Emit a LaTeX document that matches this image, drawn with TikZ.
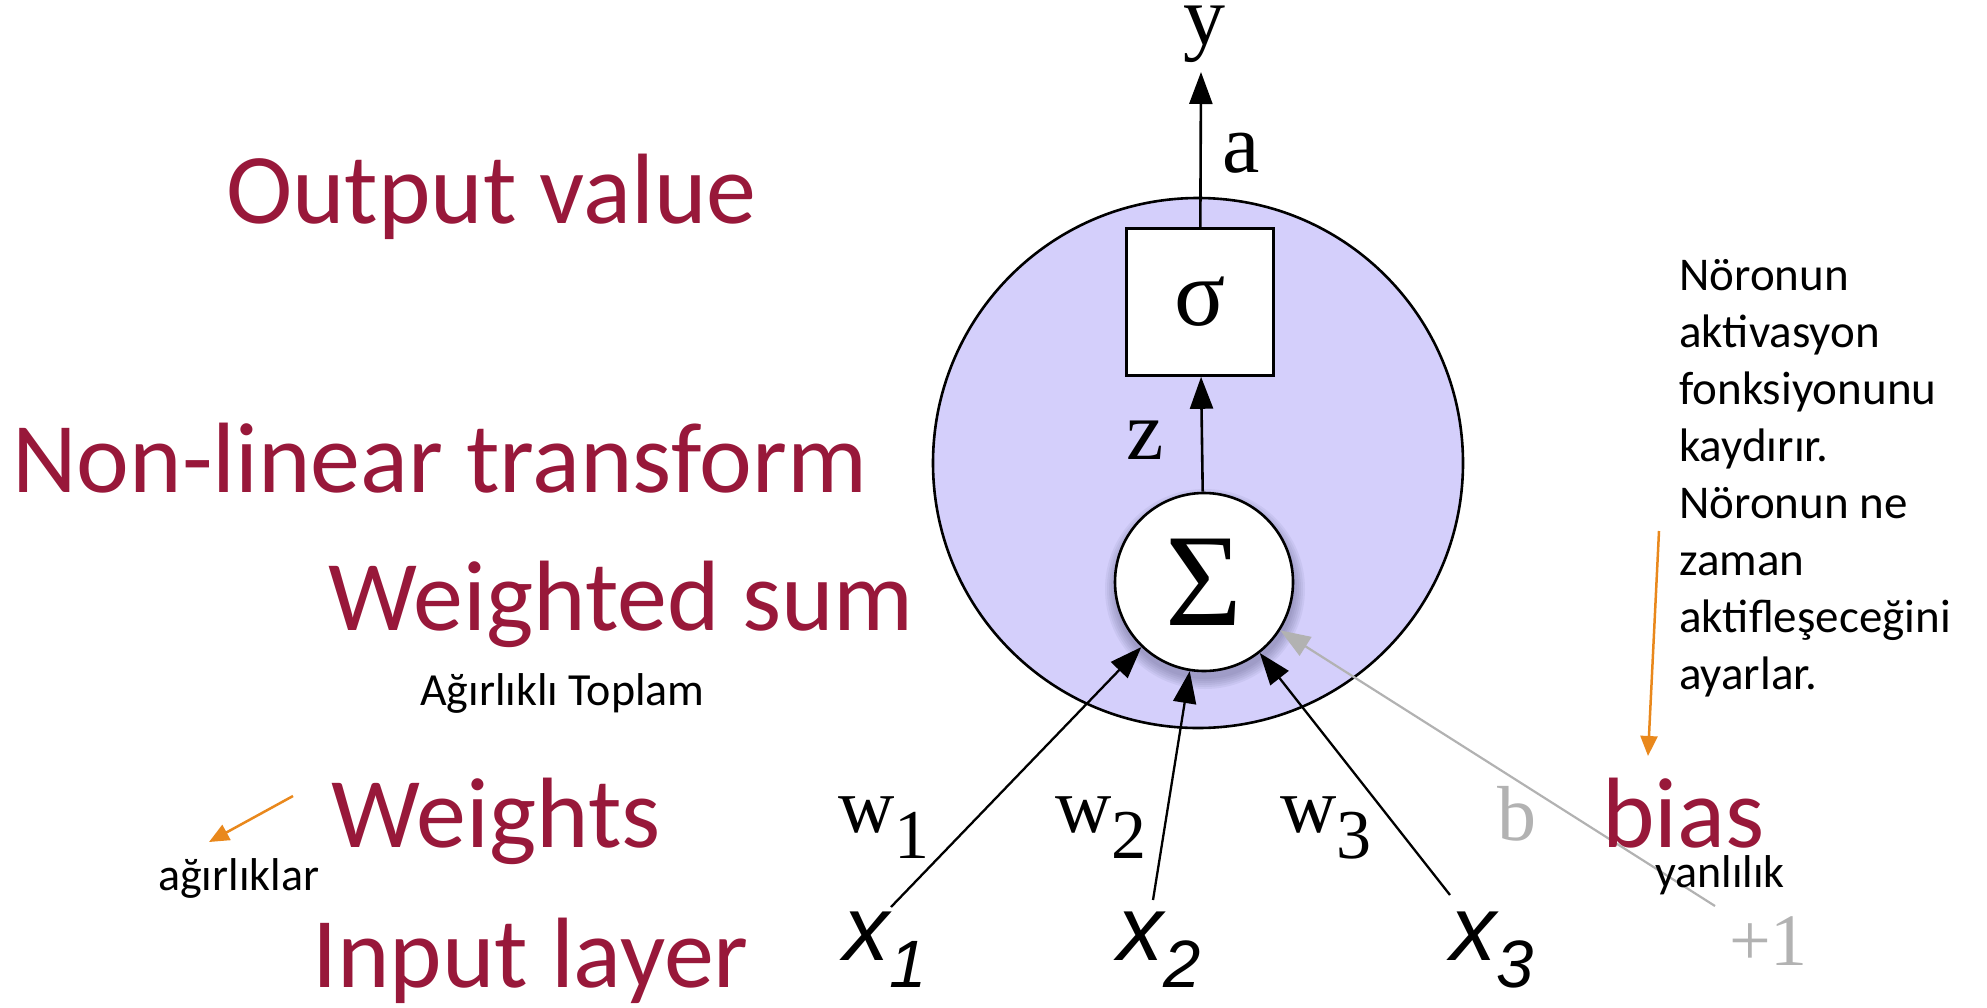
\documentclass[tikz,border=0pt]{standalone}
\usepackage{fontspec}
\setmainfont{Carlito}
\newfontfamily\serifm{Liberation Serif}
\newfontfamily\sansm{Liberation Sans}
\usetikzlibrary{arrows.meta}
\definecolor{lav}{RGB}{212,207,251}
\definecolor{crim}{RGB}{152,24,58}
\definecolor{org}{RGB}{233,136,28}
\definecolor{bgray}{RGB}{178,178,178}
\definecolor{shad}{RGB}{70,70,110}
\begin{document}
\begin{tikzpicture}[x=1pt,y=-1pt,
  redlbl/.style={text=crim, font=\fontsize{100}{120}\selectfont, inner sep=0, anchor=base west},
  blklbl/.style={font=\fontsize{46}{56}\selectfont, inner sep=0, anchor=base west},
  mathlbl/.style={font=\serifm\fontsize{84}{84}\selectfont, inner sep=0, anchor=base west},
  wlbl/.style={font=\serifm\fontsize{78}{78}\selectfont, inner sep=0, anchor=base west},
  xlbl/.style={font=\sansm\itshape\fontsize{92}{92}\selectfont, inner sep=0, anchor=base west},
  conn/.style={line width=2.6pt, -{Triangle[length=32pt,width=23pt]}},
  inconn/.style={line width=2.3pt, -{Triangle[length=32pt,width=23pt]}},
  gconn/.style={bgray, line width=2.2pt, -{Triangle[length=30pt,width=22pt]}},
  oconn/.style={org, line width=2.5pt, -{Triangle[length=20pt,width=17pt]}}
]
\useasboundingbox (0,0) rectangle (1987,1007);

% neuron body
\node[circle, draw, fill=lav, line width=2.6pt, minimum size=530pt, inner sep=0] (neuron) at (1198,463) {};

% shadow of the summation node
\foreach \r in {100,98,96,94,92,90}
  \fill[shad, opacity=0.07] (1205,589) circle (\r pt);

\node[circle, draw, fill=white, line width=2.6pt, minimum size=178pt, inner sep=0,
      font=\serifm\fontsize{132}{132}\selectfont] (sum) at (1204,582) {Σ};
\node[draw, fill=white, line width=2.6pt, minimum size=147pt, inner sep=0,
      font=\serifm\fontsize{95}{95}\selectfont] (act) at (1200,302) {σ};

\coordinate (ytip) at (1201,72);
\draw[conn] (sum) -- (act);
\draw[conn] (act) -- (ytip);

\node[mathlbl, anchor=base] (ylbl) at (1204,44) {y};
\node[mathlbl] (albl) at (1222,172) {a};
\node[mathlbl] (zlbl) at (1126,459) {z};

% inputs
\coordinate (x1s) at (891,907);
\coordinate (x2s) at (1153,900);
\coordinate (x3s) at (1450,895);
\coordinate (bs) at (1715,906);
\draw[inconn] (x1s) -- (sum);
\draw[inconn] (x2s) -- (sum);
\draw[inconn] (x3s) -- (sum);
\draw[gconn] (bs) -- (sum);

\node[wlbl] (w1) at (838,832) {w\raisebox{-26pt}{\fontsize{70}{70}\selectfont 1}};
\node[wlbl] (w2) at (1055,832) {w\raisebox{-26pt}{\fontsize{70}{70}\selectfont 2}};
\node[wlbl] (w3) at (1280,832) {w\raisebox{-26pt}{\fontsize{70}{70}\selectfont 3}};
\node[wlbl, text=bgray] (blbl) at (1497,840) {b};
\node[wlbl, text=bgray, font=\serifm\fontsize{74}{74}\selectfont] (plus1) at (1729,965) {+1};

\node[xlbl] (x1) at (843,960) {x\raisebox{-27pt}{\fontsize{67}{67}\selectfont 1}};
\node[xlbl] (x2) at (1117,960) {x\raisebox{-27pt}{\fontsize{67}{67}\selectfont 2}};
\node[xlbl] (x3) at (1450,960) {x\raisebox{-27pt}{\fontsize{67}{67}\selectfont 3}};

% red captions
\node[redlbl] (outv) at (226,223) {Output value};
\node[redlbl] (nonlin) at (12,492) {Non-linear transform};
\node[redlbl] (wsum) at (328,630) {Weighted sum};
\node[redlbl] (wts) at (331,847) {Weights};
\node[redlbl] (inl) at (312,987) {Input layer};
\node[redlbl] (bias) at (1602,847) {bias};

% black notes
\node[blklbl] (agt) at (420,705) {Ağırlıklı Toplam};
\node[blklbl] (agl) at (158,890) {ağırlıklar};
\node[blklbl] (yan) at (1655,887) {yanlılık};
\node[font=\fontsize{47}{57}\selectfont, inner sep=0, anchor=base west, align=left] (note) at (1679,689)
  {Nöronun\\aktivasyon\\fonksiyonunu\\kaydırır.\\Nöronun ne\\zaman\\aktifleşeceğini\\ayarlar.};

% orange pointers
\coordinate (oa1) at (293,796);
\coordinate (oa2) at (209,842);
\coordinate (ob1) at (1659,531);
\coordinate (ob2) at (1648,756);
\draw[oconn] (oa1) -- (oa2);
\draw[oconn] (ob1) -- (ob2);
\end{tikzpicture}
\end{document}
